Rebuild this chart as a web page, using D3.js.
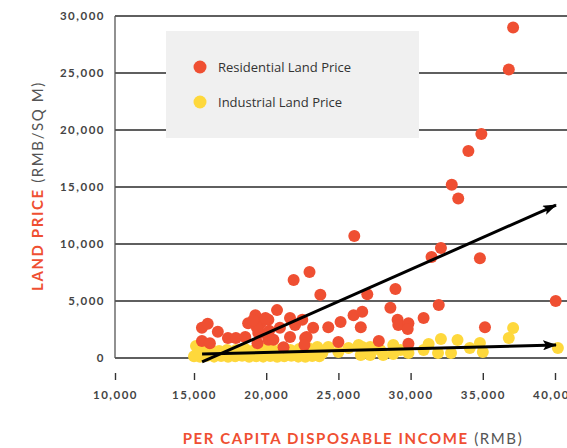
<!DOCTYPE html>
<html>
<head>
<meta charset="utf-8">
<script src="https://cdn.jsdelivr.net/npm/d3@7"></script>
<style>
  html, body { margin: 0; padding: 0; background: #fff; }
  svg { display: block; }
</style>
</head>
<body>
<svg id="chart" width="567" height="448"></svg>
<script>
// ---------- DATA ----------
const xTicks = [10000, 15000, 20000, 25000, 30000, 35000, 40000];
const yTicks = [0, 5000, 10000, 15000, 20000, 25000, 30000];
const seriesNames = ["Residential Land Price", "Industrial Land Price"];

// [per capita disposable income (RMB), land price (RMB/sq m)]
const residentialPoints = [
  [37100, 29000], [36800, 25300], [34900, 19650], [34000, 18150], [32850, 15200],
  [33300, 14000], [26100, 10700], [32100, 9650], [31450, 8850], [34800, 8750],
  [23000, 7550], [21900, 6850], [40050, 5000], [27000, 5600], [28950, 6050],
  [31950, 4650], [23750, 5550], [20750, 4200], [28600, 4400], [26050, 3750],
  [26650, 4050], [25150, 3150], [24300, 2700], [26550, 2700], [29100, 3350],
  [29150, 2900], [29850, 3050], [29800, 2550], [30900, 3500], [35150, 2700],
  [27800, 1500], [29850, 1250], [25000, 1400], [22500, 3350], [21650, 3500],
  [20150, 3350], [21650, 1850], [22700, 1750], [21200, 950], [19600, 2200],
  [23250, 2650], [22000, 2900], [15550, 2650], [15950, 3000], [16650, 2300],
  [15550, 1500], [16100, 1300], [17350, 1750], [17900, 1750], [18550, 1850],
  [19250, 3750], [18750, 3050], [19600, 3050], [19400, 1300], [20150, 1600],
  [20500, 1600], [20950, 2650], [19950, 3500], [19450, 2200], [22800, 1850],
  [22650, 1150], [19350, 2700], [20200, 2400], [19100, 3300]
];

const industrialPoints = [
  [15000, 150], [15420, 100], [15900, 200], [16390, 120], [16880, 180],
  [17360, 100], [17850, 150], [18330, 200], [18820, 100], [19310, 160],
  [19790, 120], [20280, 180], [20760, 100], [21250, 150], [21740, 200],
  [22220, 120], [22710, 100], [23190, 180], [23680, 150],
  [15140, 1050], [15630, 790], [16180, 700], [16740, 610], [17290, 700],
  [17920, 700], [18540, 790], [19170, 700], [19790, 790], [20420, 700],
  [21040, 790], [21670, 700], [22290, 790], [22920, 880], [23540, 960],
  [15350, 440], [16600, 440], [18130, 350], [19510, 440], [20900, 440],
  [22430, 350], [23890, 440],
  [24300, 970], [25000, 530], [25700, 880], [26400, 1140], [26650, 970],
  [26550, 260], [27200, 970], [27200, 260], [27900, 700], [28100, 260],
  [28800, 1140], [28800, 350], [29300, 700], [29850, 440], [30900, 700],
  [31250, 1230], [31900, 440], [32100, 1670], [32800, 440], [33250, 1580],
  [34100, 880], [34800, 1320], [35000, 530], [36800, 1750], [37100, 2630],
  [40200, 880]
];

// trend arrows: [start, end] in data units
const residentialTrend = [[15560, -350], [40070, 13420]];
const industrialTrend = [[15560, 350], [40070, 1140]];

// ---------- STYLE ----------
const RED = "#ef4f32";
const YELLOW = "#fed83c";
const GRAY_TEXT = "#444";

const svg = d3.select("#chart");

const x = d3.scaleLinear().domain([10000, 15000, 40000]).range([115, 194, 555]);
const y = d3.scaleLinear().domain([0, 30000]).range([358, 16]);

// gridlines
svg.append("g")
  .selectAll("line")
  .data(yTicks)
  .join("line")
  .attr("x1", x(10000)).attr("x2", 567)
  .attr("y1", d => y(d)).attr("y2", d => y(d))
  .attr("stroke", "#2a2a2a")
  .attr("stroke-width", 1.3);

// y axis line
svg.append("line")
  .attr("x1", x(10000)).attr("x2", x(10000))
  .attr("y1", y(30000)).attr("y2", y(0))
  .attr("stroke", "#555").attr("stroke-width", 1.3);

const tickFont = g => g.selectAll("text")
    .attr("fill", GRAY_TEXT)
    .style("font-family", "Lato, 'DejaVu Sans', sans-serif")
    .style("font-weight", "700")
    .style("font-size", "11.5px")
    .style("letter-spacing", "1.5px");

// y tick labels
const yAxis = d3.axisLeft(y).tickValues(yTicks).tickSize(0).tickPadding(10)
  .tickFormat(d3.format(","));
svg.append("g")
  .attr("transform", `translate(${x(10000)},0)`)
  .call(yAxis)
  .call(g => g.select(".domain").remove())
  .call(tickFont);

// x axis ticks + labels
const xAxis = d3.axisBottom(x).tickValues(xTicks).tickSize(7).tickPadding(11)
  .tickFormat(d3.format(","));
svg.append("g")
  .attr("transform", `translate(0,373)`)
  .call(xAxis)
  .call(g => g.select(".domain").remove())
  .call(g => g.selectAll(".tick line").attr("stroke", "#333").attr("stroke-width", 1.4))
  .call(tickFont);

// legend box
const legend = svg.append("g");
legend.append("rect")
  .attr("x", 166).attr("y", 31).attr("width", 253).attr("height", 107)
  .attr("fill", "#f0f0f0");
const legendColors = [RED, YELLOW];
seriesNames.forEach((name, i) => {
  const cy = 67 + i * 35;
  legend.append("circle").attr("cx", 200).attr("cy", cy).attr("r", 6.5).attr("fill", legendColors[i]);
  legend.append("text").attr("x", 218).attr("y", cy).attr("dy", "0.35em")
    .attr("fill", "#333")
    .style("font-family", "'Open Sans', sans-serif")
    .style("font-size", "13px")
    .text(name);
});

// points
svg.append("g")
  .selectAll("circle")
  .data(industrialPoints)
  .join("circle")
  .attr("cx", d => x(d[0])).attr("cy", d => y(d[1]))
  .attr("r", 6).attr("fill", YELLOW);

svg.append("g")
  .selectAll("circle")
  .data(residentialPoints)
  .join("circle")
  .attr("cx", d => x(d[0])).attr("cy", d => y(d[1]))
  .attr("r", 6).attr("fill", RED);

// arrows
svg.append("defs").append("marker")
  .attr("id", "arrow")
  .attr("viewBox", "0 0 14 10")
  .attr("refX", 13).attr("refY", 5)
  .attr("markerWidth", 14).attr("markerHeight", 10)
  .attr("markerUnits", "userSpaceOnUse")
  .attr("orient", "auto")
  .append("path").attr("d", "M0,0 L14,5 L0,10 L3,5 Z").attr("fill", "#000");

[residentialTrend, industrialTrend].forEach(t => {
  svg.append("line")
    .attr("x1", x(t[0][0])).attr("y1", y(t[0][1]))
    .attr("x2", x(t[1][0])).attr("y2", y(t[1][1]))
    .attr("stroke", "#000").attr("stroke-width", 3)
    .attr("marker-end", "url(#arrow)");
});

// axis titles
const xt = svg.append("text")
  .attr("x", 353).attr("y", 439).attr("dy", "0.35em")
  .attr("text-anchor", "middle")
  .style("font-family", "Lato, 'DejaVu Sans', sans-serif")
  .style("font-size", "15px")
  .style("letter-spacing", "1.6px");
xt.append("tspan").attr("fill", RED).style("font-weight", "700").text("PER CAPITA DISPOSABLE INCOME");
xt.append("tspan").attr("fill", "#555").style("font-weight", "400").text(" (RMB)");

const yt = svg.append("text")
  .attr("transform", "translate(38,186) rotate(-90)")
  .attr("dy", "0.35em")
  .attr("text-anchor", "middle")
  .style("font-family", "Lato, 'DejaVu Sans', sans-serif")
  .style("font-size", "15px")
  .style("letter-spacing", "1.6px");
yt.append("tspan").attr("fill", RED).style("font-weight", "700").text("LAND PRICE");
yt.append("tspan").attr("fill", "#555").style("font-weight", "400").text(" (RMB/SQ M)");
</script>
</body>
</html>
